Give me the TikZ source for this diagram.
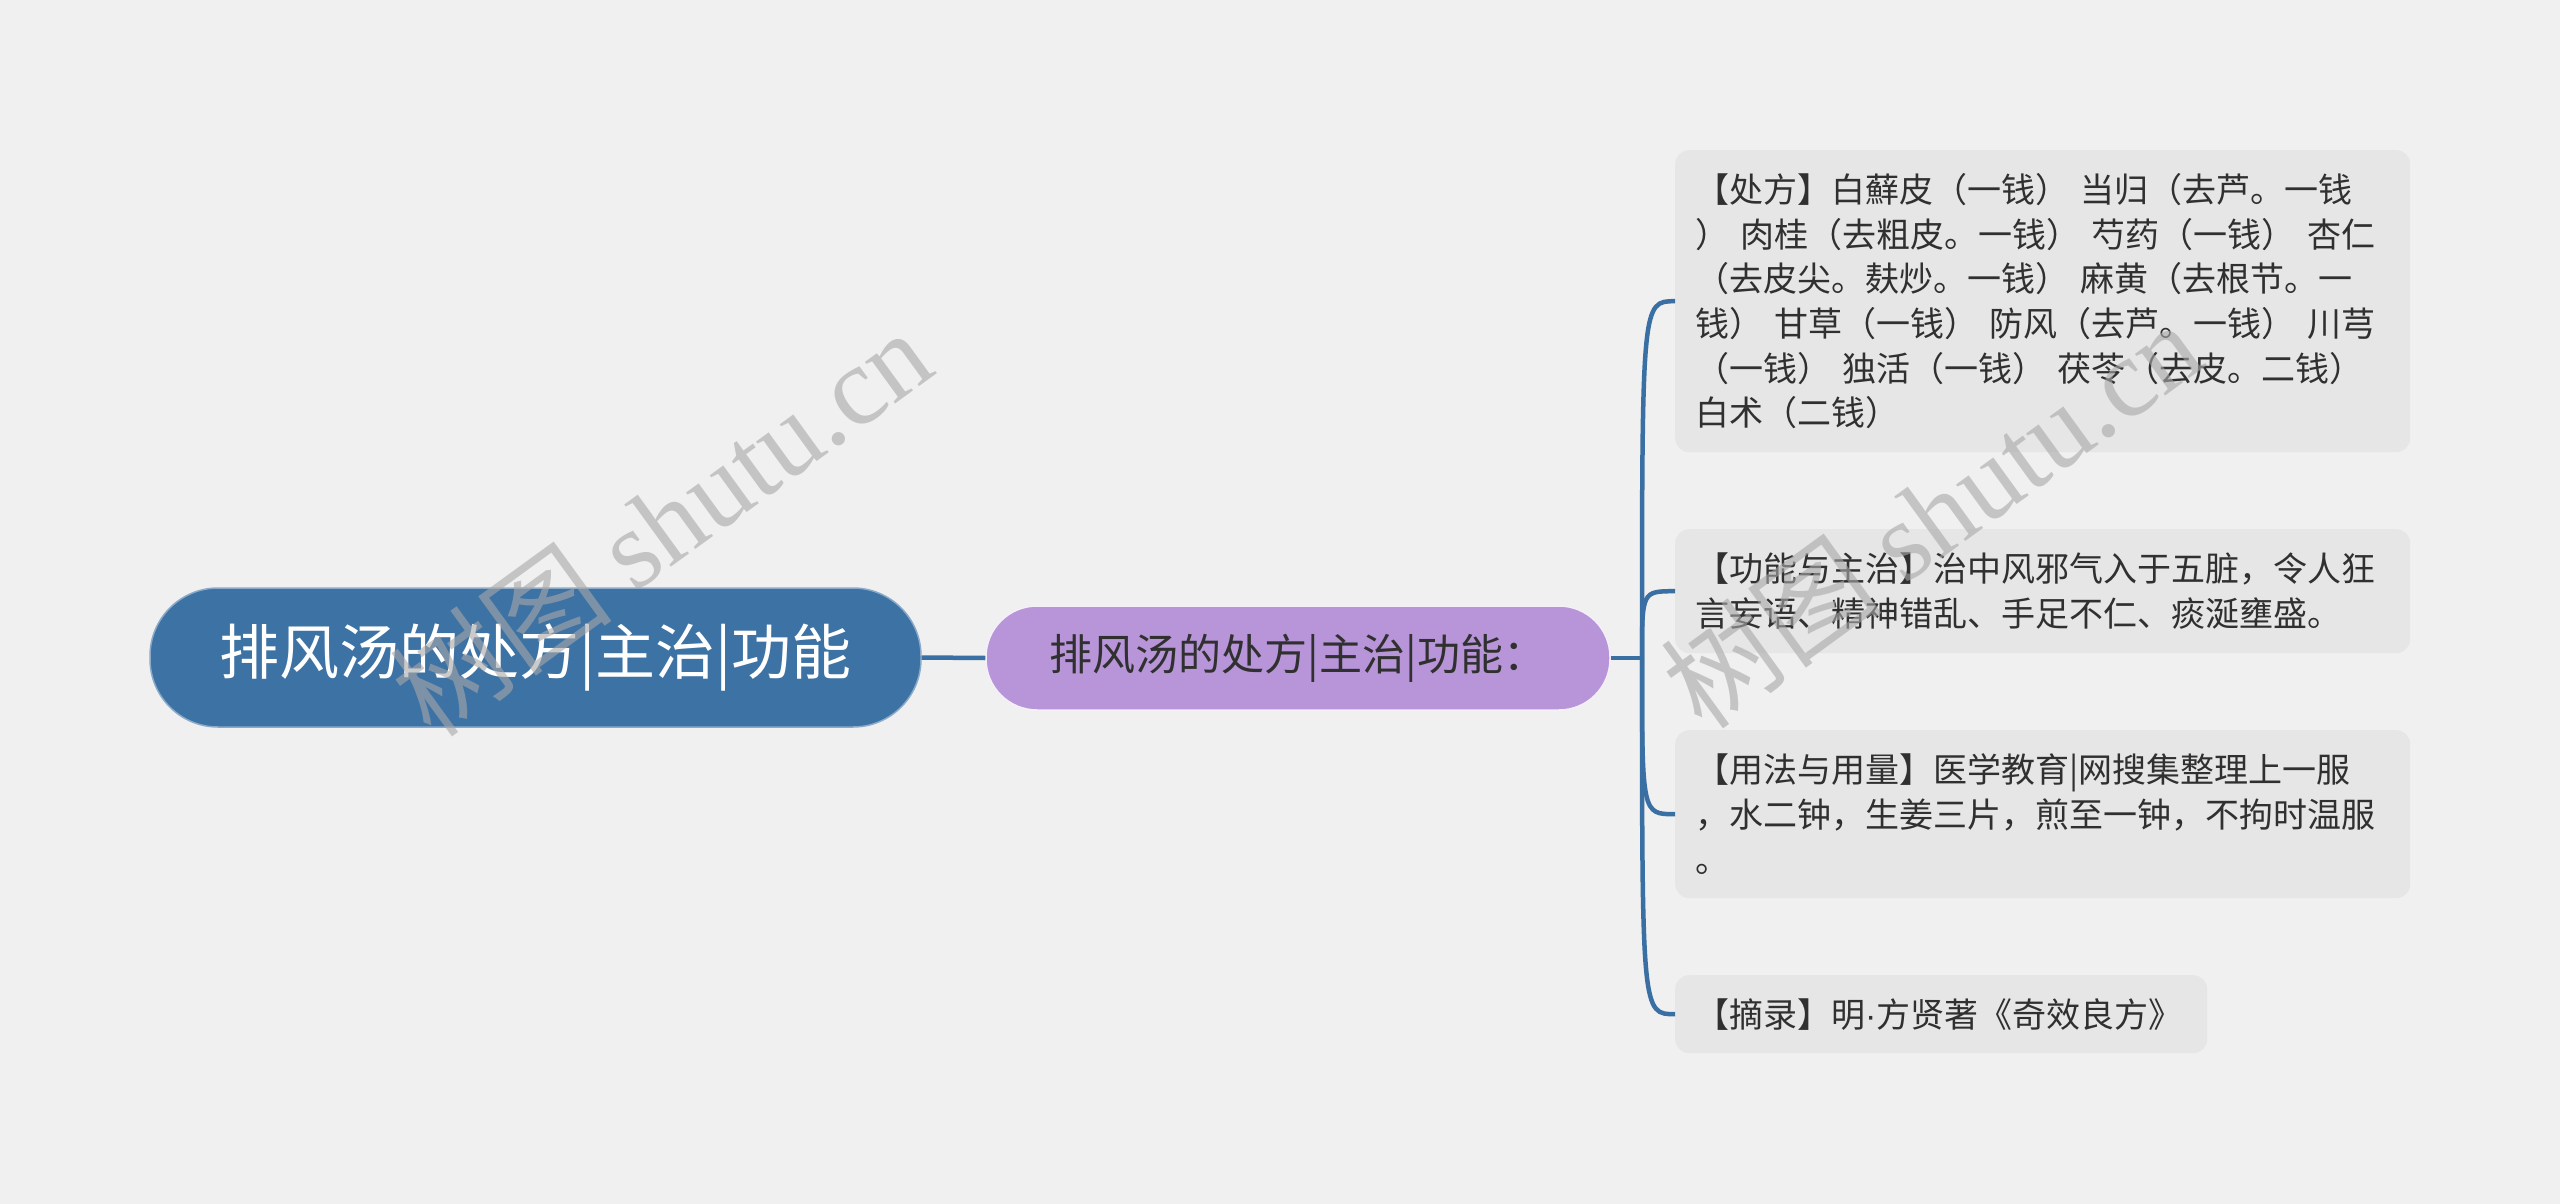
\documentclass[tikz,border=0pt]{standalone}
\usepackage{fontspec}
\setmainfont{Noto Sans CJK SC}
\newfontfamily\wmlat{Liberation Serif}
\newfontfamily\wmcjk{Noto Sans CJK SC}
\newfontfamily\latsans{Liberation Sans}
\definecolor{bgc}{HTML}{F0F0F0}
\definecolor{boxc}{HTML}{E6E6E6}
\definecolor{rootc}{HTML}{3D72A4}
\definecolor{subc}{HTML}{B795D8}
\definecolor{connc}{HTML}{3A6FA3}
\definecolor{txtc}{HTML}{303030}
\definecolor{wmc}{HTML}{A8A8A8}
\begin{document}
\begin{tikzpicture}[x=1pt,y=-1pt,
  rootbox/.style={fill=rootc, draw=rootc!60!white, line width=1.5pt, rounded corners=68pt, text=white,
    minimum width=771pt, minimum height=139pt, inner sep=0pt, font=\fontsize{60}{66}\selectfont},
  subbox/.style={fill=subc, draw=white!85!subc, line width=1.5pt, rounded corners=51pt, text=txtc,
    minimum width=624pt, minimum height=104pt, inner sep=0pt, font=\fontsize{43}{50}\selectfont},
  leaf/.style={fill=boxc, rounded corners=14pt, anchor=north west, inner xsep=20pt, inner ysep=0pt,
    text width=695pt, align=left, text=txtc, font=\fontsize{34}{44.7}\selectfont},
  conn/.style={draw=connc, line width=4.5pt},
  wm/.style={text=wmc, opacity=0.6, inner sep=0pt, rotate=36}]
\fill[bgc] (0,0) rectangle (2560,1204);
\useasboundingbox (0,0) rectangle (2560,1204);

\node[rootbox] (root) at (535.5,657.5) {排风汤的处方|主治|功能};
\node[subbox] (sub) at (1298,658) {排风汤的处方|主治|功能：};
\coordinate (j) at (1642,658);

\node[leaf, minimum height=302pt] (b1) at (1675,150) {【处方】白蘚皮（一钱）\ 当归（去芦。一钱\\
）\ 肉桂（去粗皮。一钱）\ 芍药（一钱）\ 杏仁\\
（去皮尖。麸炒。一钱）\ 麻黄（去根节。一\\
钱）\ 甘草（一钱）\ 防风（去芦。一钱）\ 川芎\\
（一钱）\ 独活（一钱）\ 茯苓（去皮。二钱）\\
白术（二钱）};
\node[leaf, minimum height=124pt] (b2) at (1675,529) {【功能与主治】治中风邪气入于五脏，令人狂\\
言妄语、精神错乱、手足不仁、痰涎壅盛。};
\node[leaf, minimum height=168pt] (b3) at (1675,730) {【用法与用量】医学教育|网搜集整理上一服\\
，水二钟，生姜三片，煎至一钟，不拘时温服\\
。};
\node[leaf, text width=492pt, minimum height=78pt] (b4) at (1675,975) {【摘录】明{\latsans ·}方贤著《奇效良方》};

\draw[conn] (root.east) -- (sub.west);
\draw[conn] (sub.east) -- (j);
\foreach \b in {b1,b2,b3,b4}{
  \draw[conn] (j) .. controls (j |- \b.west) .. (\b.west);
}

\node[wm] (wm1) at (661,522) {\fontsize{112}{120}\selectfont{\wmcjk 树图} {\wmlat shutu.cn}};
\node[wm] (wm2) at (1931,514) {\fontsize{112}{120}\selectfont{\wmcjk 树图} {\wmlat shutu.cn}};
\end{tikzpicture}
\end{document}
